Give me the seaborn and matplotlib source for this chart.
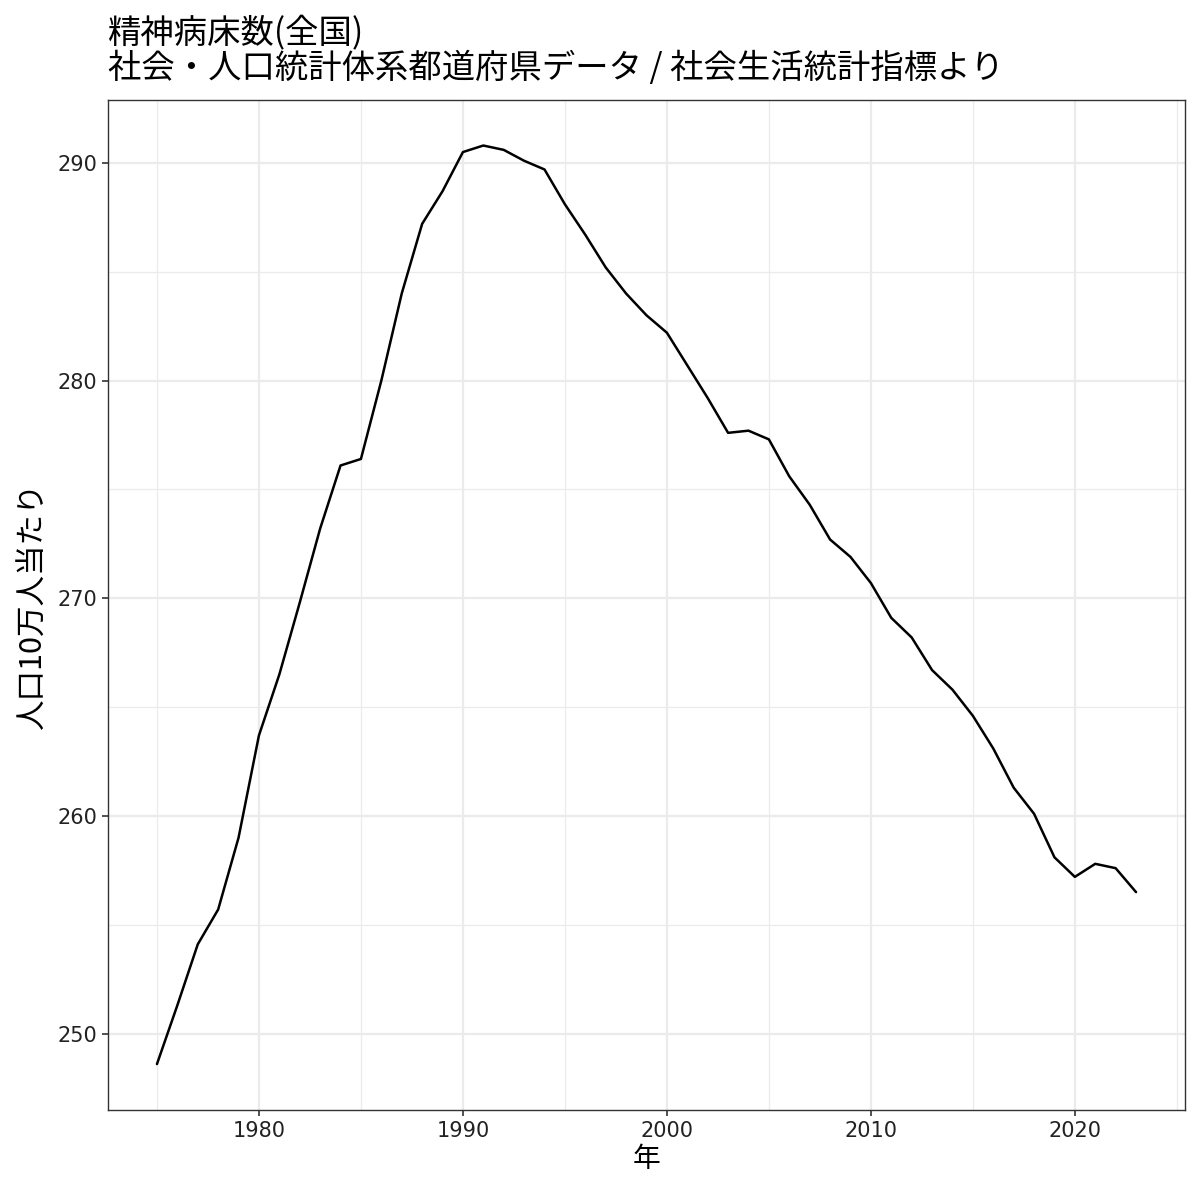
import numpy as np
import pandas as pd
import matplotlib
matplotlib.use("Agg")
import matplotlib.pyplot as plt
from matplotlib.ticker import MultipleLocator
import seaborn as sns

# values
years = list(range(1975, 2024))
beds = [248.6, 251.3, 254.1, 255.7, 259.0, 263.7, 266.5, 269.8, 273.2, 276.1,
        276.4, 280.0, 284.0, 287.2, 288.7, 290.5, 290.8, 290.6, 290.1, 289.7,
        288.1, 286.7, 285.2, 284.0, 283.0, 282.2, 280.7, 279.2, 277.6, 277.7,
        277.3, 275.6, 274.3, 272.7, 271.9, 270.7, 269.1, 268.2, 266.7, 265.8,
        264.6, 263.1, 261.3, 260.1, 258.1, 257.2, 257.8, 257.6, 256.5]
x_ticks = [1980, 1990, 2000, 2010, 2020]
y_ticks = [250, 260, 270, 280, 290]

title = "精神病床数(全国)\n社会・人口統計体系都道府県データ / 社会生活統計指標より"
x_label = "年"
y_label = "人口10万人当たり"

sns.set_theme(style="white")
plt.rcParams['font.family'] = ['Noto Sans CJK JP', 'DejaVu Sans']

df = pd.DataFrame({"year": years, "value": beds})

fig = plt.figure(figsize=(12, 12), dpi=100)
ax = fig.add_axes([0.09, 0.075, 0.8975, 0.842])

sns.lineplot(data=df, x="year", y="value", color="black", linewidth=1.8, ax=ax)

# ggplot-like expansion of 5 %
xr = max(years) - min(years)
yr = max(beds) - min(beds)
ax.set_xlim(min(years) - 0.05 * xr, max(years) + 0.05 * xr)
ax.set_ylim(min(beds) - 0.05 * yr, max(beds) + 0.05 * yr)

ax.set_xticks(x_ticks)
ax.set_yticks(y_ticks)
ax.xaxis.set_minor_locator(MultipleLocator(5))
ax.yaxis.set_minor_locator(MultipleLocator(5))
ax.grid(which="major", color="#EBEBEB", linewidth=1.6)
ax.grid(which="minor", color="#EBEBEB", linewidth=0.9)
ax.set_axisbelow(True)

for s in ax.spines.values():
    s.set_color("#333333")
    s.set_linewidth(1.0)
ax.tick_params(which="major", length=4, width=1.2, color="#333333",
               labelsize=15, labelcolor="#222222", pad=4,
               bottom=True, left=True)
ax.tick_params(which="minor", length=0)
for lab in ax.get_xticklabels() + ax.get_yticklabels():
    lab.set_family(['DejaVu Sans'])

ax.set_xlabel(x_label, fontsize=20, color="black", labelpad=2)
ax.set_ylabel(y_label, fontsize=22, color="black", labelpad=6)
fig.text(0.09, 0.928, title, fontsize=24, color="black",
         ha="left", va="bottom", linespacing=1.0)

fig.savefig("out.png", dpi=100)
